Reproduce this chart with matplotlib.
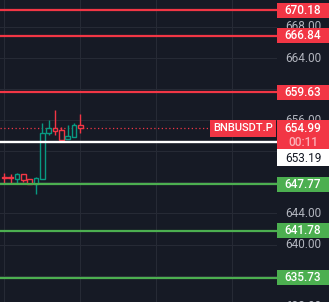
import numpy as np
import matplotlib
matplotlib.use("Agg")
from matplotlib import pyplot as plt
from matplotlib.patches import Rectangle
import matplotlib.transforms as mtransforms

plt.rcParams["font.family"] = ["Roboto", "DejaVu Sans"]

# candles (oldest first)
opens  = [648.75, 648.66, 648.48, 649.08, 648.44, 647.79, 648.48, 654.32, 655.00, 654.74, 653.55, 653.88, 655.39]
highs  = [649.17, 649.08, 649.25, 649.10, 648.44, 648.73, 655.64, 656.03, 657.32, 655.17, 655.39, 655.68, 656.80]
lows   = [647.89, 647.96, 647.96, 648.05, 647.79, 646.51, 648.40, 654.10, 654.10, 653.24, 653.55, 653.88, 654.32]
closes = [648.62, 648.50, 649.08, 648.31, 647.79, 648.57, 654.36, 655.00, 654.65, 653.46, 653.97, 655.39, 654.99]

red_levels = [670.18, 666.84, 659.63]
green_levels = [647.77, 641.78, 635.73]
white_level = 653.19
last_price = 654.99
countdown = "00:11"
symbol = "BNBUSDT.P"
grid_prices = np.arange(632, 673, 4)
tick_labels_shown = [668, 664, 656, 644, 640, 632]

BG = "#161a25"
GRID = "#262a35"
RED = "#f23645"
GREEN_LVL = "#4caf50"
UP = "#089981"
TXT = "#b2b5be"

W, H = 329, 302
SCALE_X = 277
ymin, ymax = 632.607, 671.47
unit = H / (ymax - ymin)  # px per price unit

fig = plt.figure(figsize=(W / 100, H / 100), dpi=100, facecolor=BG)
ax = fig.add_axes([0, 0, SCALE_X / W, 1])
ax2 = fig.add_axes([SCALE_X / W, 0, (W - SCALE_X) / W, 1])
for a in (ax, ax2):
    a.set_facecolor(BG)
    a.set_ylim(ymin, ymax)
    a.set_xticks([])
    a.set_yticks([])
    for s in a.spines.values():
        s.set_visible(False)
ax2.set_xlim(0, 1)

xmin = -0.68
ax.set_xlim(xmin, xmin + SCALE_X / 6.33)

# grid
for p in grid_prices:
    ax.axhline(p, color=GRID, lw=0.8, zorder=0)
for xg in [0, 12, 24, 36]:
    ax.axvline(xg, color=GRID, lw=0.8, zorder=0)

# candles (hollow)
bw = 0.72
for i, (o, h, l, c) in enumerate(zip(opens, highs, lows, closes)):
    col = UP if c >= o else RED
    top, bot = max(o, c), min(o, c)
    ax.plot([i, i], [top, h], color=col, lw=1.0, zorder=3, solid_capstyle="butt")
    ax.plot([i, i], [l, bot], color=col, lw=1.0, zorder=3, solid_capstyle="butt")
    ax.add_patch(Rectangle((i - bw / 2, bot), bw, max(top - bot, 0.08),
                           facecolor=BG, edgecolor=col, lw=1.0, zorder=3))

# level lines
for p in red_levels:
    ax.axhline(p, color=RED, lw=1.6, zorder=4)
for p in green_levels:
    ax.axhline(p, color=GREEN_LVL, lw=1.6, zorder=4)
ax.axhline(white_level, color="white", lw=1.7, zorder=4)
ax.plot([xmin, xmin + 210 / 6.33], [last_price, last_price], color=RED, lw=0.9,
        ls=(0, (1, 2)), zorder=2)

# price scale tick labels
for p in tick_labels_shown:
    ax2.text(0.5, p, f"{p:.2f}", color=TXT, fontsize=8.5, ha="center", va="center", zorder=1)

bh = 15 / unit  # label box height


def level_box(p, color, text, tcolor="white", yoff=0.0):
    ax2.add_patch(Rectangle((0, p - bh / 2 + yoff), 1, bh, facecolor=color,
                            edgecolor="none", zorder=5, clip_on=False))
    ax2.text(0.5, p + yoff, text, color=tcolor, fontsize=8.5, fontweight="medium",
             ha="center", va="center", zorder=6)


for p in red_levels:
    level_box(p, RED, f"{p:.2f}")
for p in green_levels:
    level_box(p, GREEN_LVL, f"{p:.2f}")

# last price box with countdown
top_y = last_price + 8 / unit
ax2.add_patch(Rectangle((0, top_y - 29 / unit), 1, 29 / unit, facecolor=RED,
                        edgecolor="none", zorder=5))
ax2.text(0.5, last_price, f"{last_price:.2f}", color="white", fontsize=8.5,
         fontweight="medium", ha="center", va="center", zorder=6)
ax2.text(0.5, last_price - 14 / unit, countdown, color="#fbb0b8", fontsize=8.5,
         fontweight="medium", ha="center", va="center", zorder=6)

# white box pushed under the red one
wtop = top_y - 29 / unit
ax2.add_patch(Rectangle((0, wtop - 17 / unit), 1, 17 / unit, facecolor="white",
                        edgecolor="none", zorder=5))
ax2.text(0.5, wtop - 9 / unit, f"{white_level:.2f}", color="#131722", fontsize=8.5,
         ha="center", va="center", zorder=6)

# symbol label on the chart
tr = mtransforms.blended_transform_factory(ax.transAxes, ax.transData)
ax.add_patch(Rectangle((210 / SCALE_X, top_y - 16.5 / unit), 66 / SCALE_X, 16.5 / unit,
                       facecolor=RED, edgecolor="none", transform=tr, zorder=6))
ax.text(243 / SCALE_X, top_y - 8.3 / unit, symbol, color="white", fontsize=8,
        fontweight="medium", ha="center", va="center", transform=tr, zorder=7)

fig.savefig("out.png", dpi=100, facecolor=BG)
